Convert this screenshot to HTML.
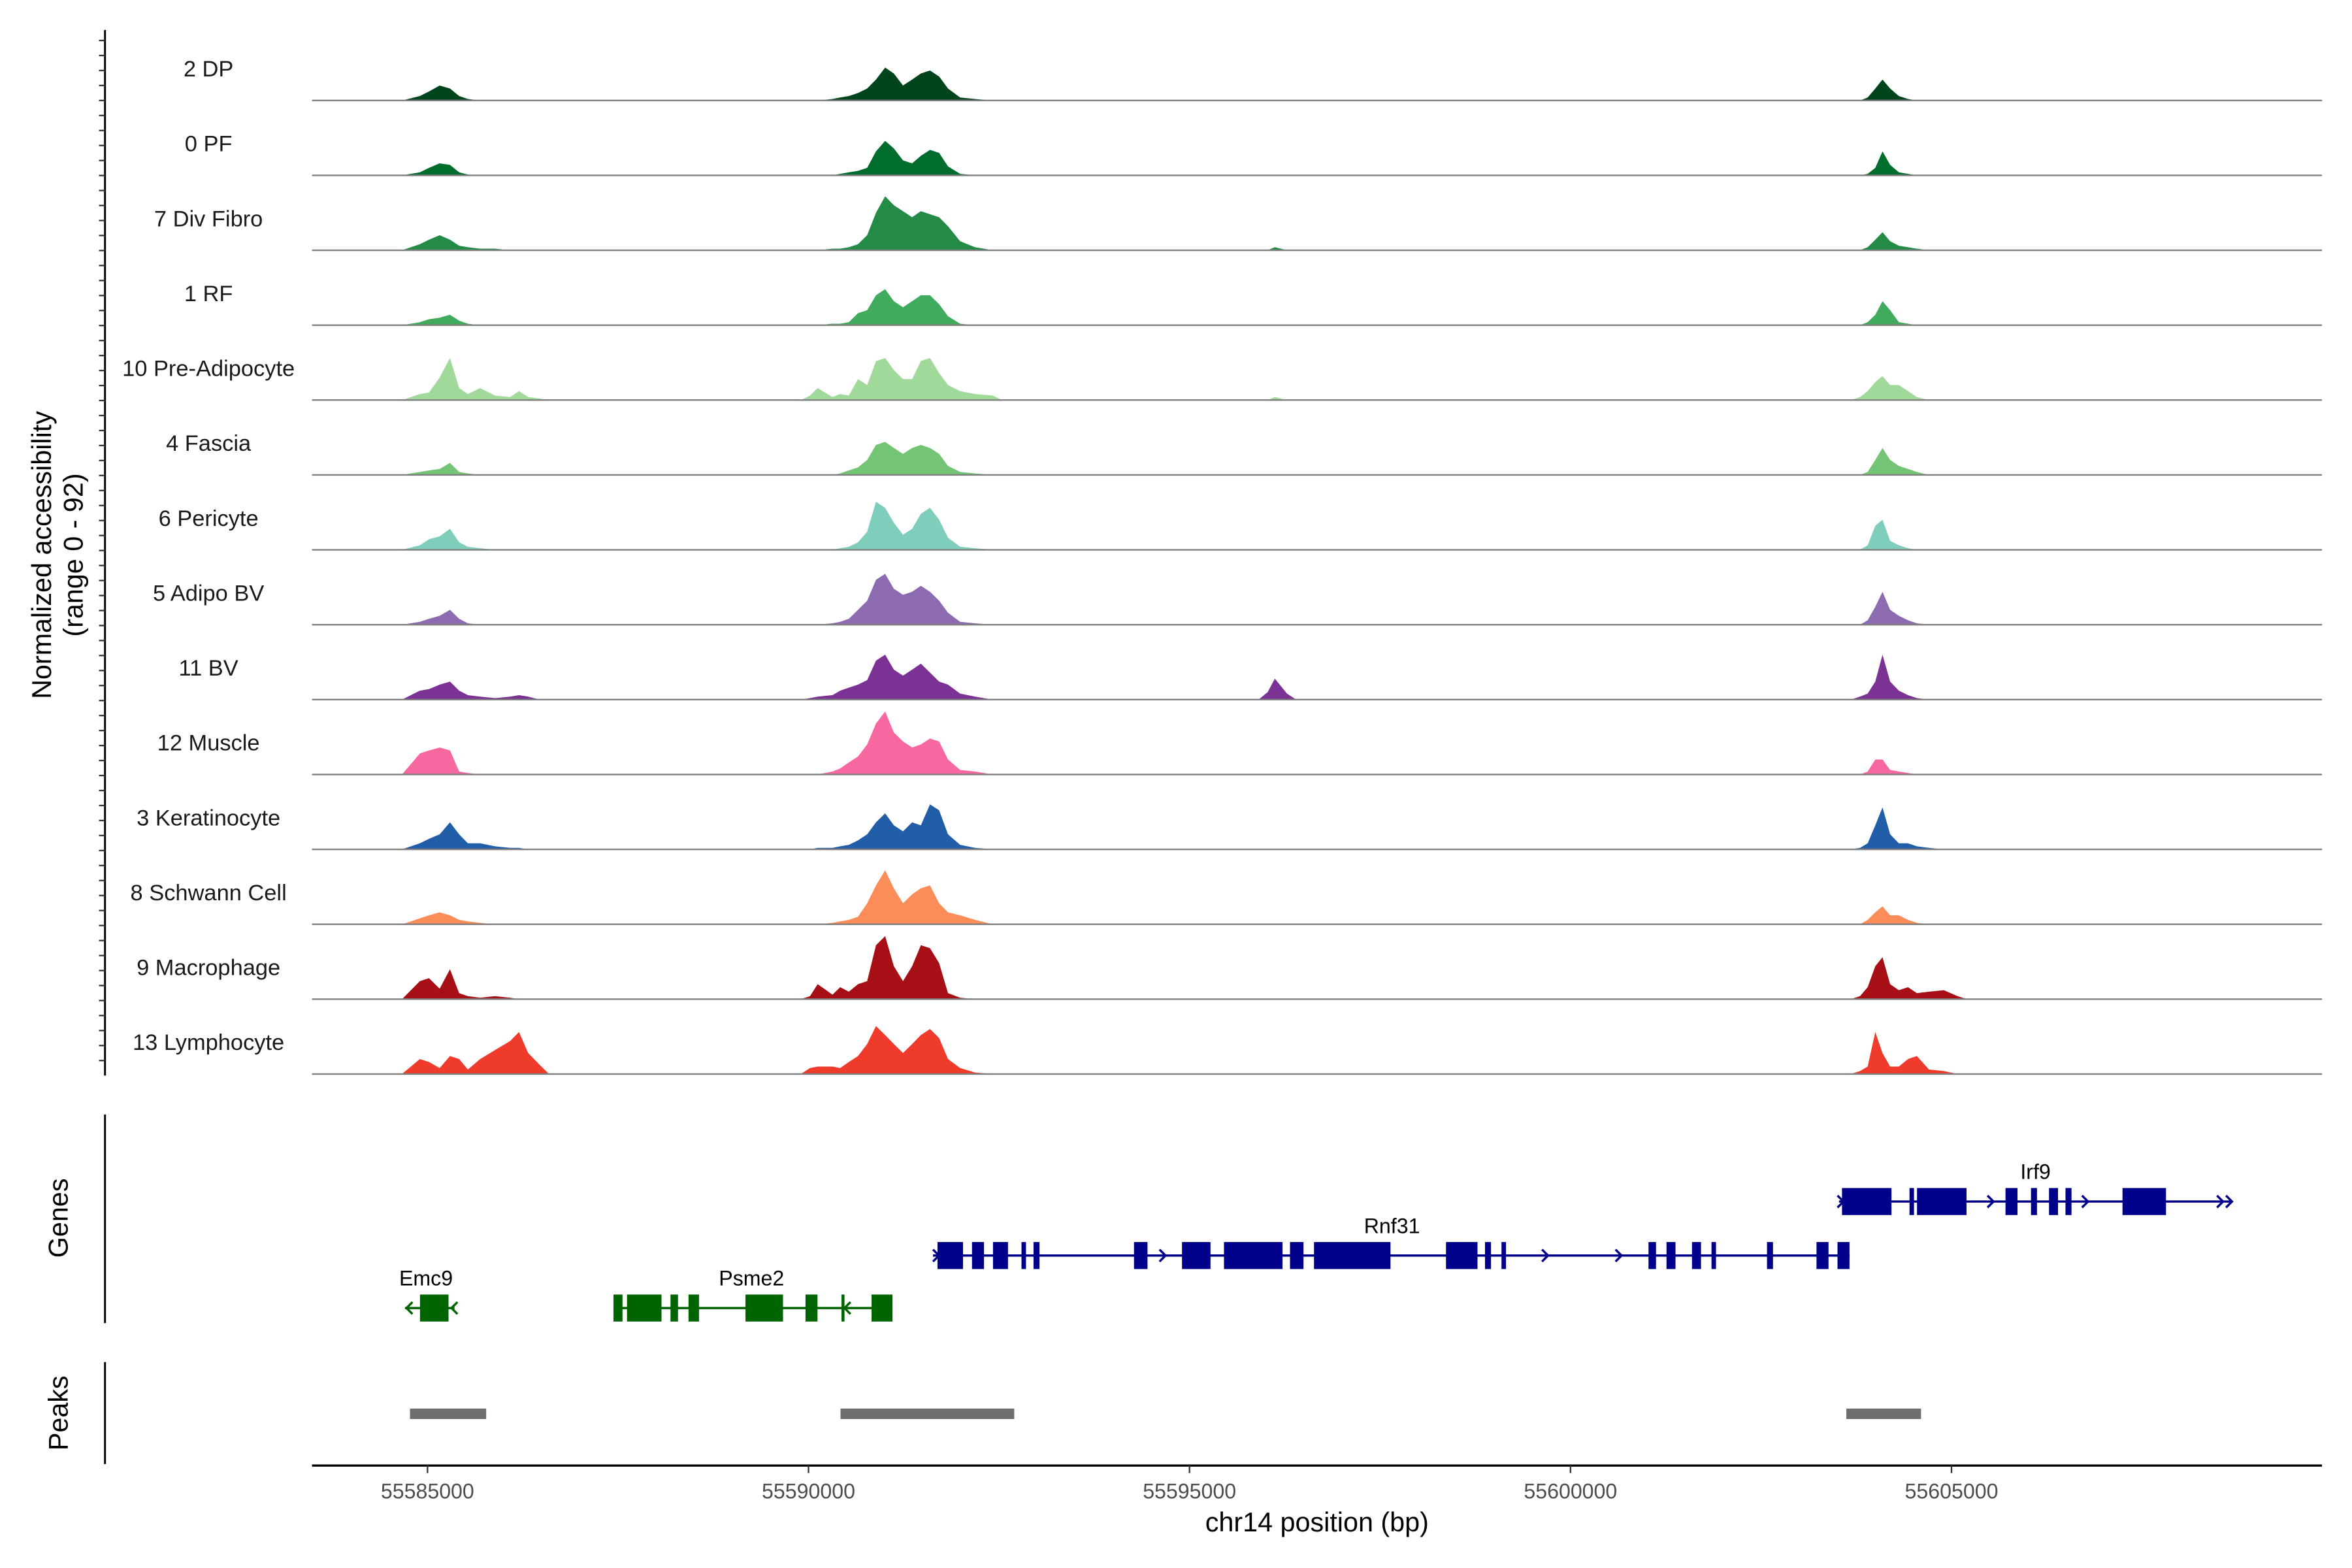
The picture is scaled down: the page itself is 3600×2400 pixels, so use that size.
<!DOCTYPE html>
<html><head><meta charset="utf-8"><title>Coverage plot</title>
<style>html,body{margin:0;padding:0;background:#fff}svg{display:block}text{font-family:"Liberation Sans",Arial,sans-serif}</style>
</head><body>
<svg id="chart" width="3600" height="2400" viewBox="0 0 1568 1045.3" preserveAspectRatio="none" xmlns="http://www.w3.org/2000/svg">
<rect width="1568" height="1046" fill="#fff"/>
<g id="tracks"></g>
<g id="leftaxis"></g>
<text transform="translate(34,370) rotate(-90)" text-anchor="middle" font-size="18" fill="#000">Normalized accessibility</text>
<text transform="translate(55,370) rotate(-90)" text-anchor="middle" font-size="18" fill="#000">(range 0 - 92)</text>
<line x1="70" y1="743" x2="70" y2="882" stroke="#000" stroke-width="1.3"/>
<text transform="translate(45,812) rotate(-90)" text-anchor="middle" font-size="18" fill="#000">Genes</text>
<line x1="70" y1="908" x2="70" y2="976" stroke="#000" stroke-width="1.3"/>
<text transform="translate(45,942) rotate(-90)" text-anchor="middle" font-size="18" fill="#000">Peaks</text>
<g id="genes"></g>
<g id="peaks"></g>
<g id="xaxis"></g>
<text x="878" y="1021" text-anchor="middle" font-size="18" fill="#000">chr14 position (bp)</text>
</svg>
<script>
const NS="http://www.w3.org/2000/svg";
const trackNames=["2 DP","0 PF","7 Div Fibro","1 RF","10 Pre-Adipocyte","4 Fascia","6 Pericyte","5 Adipo BV","11 BV","12 Muscle","3 Keratinocyte","8 Schwann Cell","9 Macrophage","13 Lymphocyte"];
const trackColors=["#00441b","#006d2c","#238b45","#41ab5d","#a1d99b","#74c476","#7fcdbb","#8c6bb1","#7b3294","#f768a1","#225ea8","#fc8d59","#a50f15","#ef3b2c"];
const binPos=[55584665,55584900,55585020,55585160,55585295,55585415,55585530,55585690,55585885,55586085,55586200,55586320,55586475,55586595,
55590020,55590120,55590315,55590415,55590530,55590650,55590770,55590885,55591005,55591120,55591240,55591360,55591475,55591595,55591715,55591830,55591990,55592185,55592420,
55596025,55596120,55596280,
55603800,55603900,55604000,55604095,55604195,55604310,55604430,55604545,55604705,55604900,55605080];
const cov0=[0,6,12,20,16,6,2,0,0,0,0,0,0,0, 0,0,2,4,6,10,16,28,44,36,20,28,36,40,32,16,4,2,0, 0,0,0, 0,4,16,28,16,6,2,0,0,0,0];
const cov1=[0,4,10,16,14,4,1,0,0,0,0,0,0,0, 0,0,0,2,4,6,10,32,46,36,20,16,26,34,30,12,2,0,0, 0,0,0, 0,2,10,32,14,4,2,0,0,0,0];
const cov2=[0,8,14,20,14,6,4,2,2,0,0,0,0,0, 0,0,2,2,4,8,20,50,72,60,52,44,52,48,44,32,12,4,0, 0,4,0, 0,4,14,24,12,6,4,2,0,0,0];
const cov3=[0,4,8,10,14,6,2,0,0,0,0,0,0,0, 0,0,2,2,4,16,20,40,48,32,24,32,40,40,28,12,2,0,0, 0,0,0, 0,4,14,32,20,4,2,0,0,0,0];
const cov4=[0,8,10,30,56,16,8,16,6,4,12,4,2,0, 6,16,4,8,6,28,20,52,56,40,28,28,52,56,36,20,12,8,6, 0,4,0, 4,12,24,32,20,20,12,4,0,0,0];
const cov5=[0,4,6,8,16,4,2,0,0,0,0,0,0,0, 0,0,0,2,6,10,20,40,44,36,28,36,40,36,28,12,4,2,0, 0,0,0, 0,4,20,36,20,12,8,4,0,0,0];
const cov6=[0,6,14,18,28,10,4,2,0,0,0,0,0,0, 0,0,0,2,4,10,24,64,56,36,20,28,48,56,40,16,4,2,0, 0,0,0, 0,6,32,40,12,6,2,0,0,0,0];
const cov7=[0,4,8,12,20,8,2,0,0,0,0,0,0,0, 0,0,2,4,8,20,32,60,68,48,40,44,52,44,32,16,4,2,0, 0,0,0, 0,6,24,44,20,12,6,2,0,0,0];
const cov8=[0,12,14,20,24,12,6,4,2,4,6,4,0,0, 2,4,6,12,16,20,26,52,60,40,32,40,48,36,24,20,8,4,0, 10,28,8, 4,8,24,60,24,12,6,2,0,0,0];
const cov9=[0,28,32,36,32,4,2,0,0,0,0,0,0,0, 0,0,4,8,16,24,40,68,84,56,44,36,40,48,44,20,6,4,0, 0,0,0, 0,4,20,20,6,4,2,0,0,0,0];
const cov10=[0,8,14,20,36,20,8,8,4,2,2,0,0,0, 0,2,2,4,6,12,20,36,48,32,24,36,32,60,52,20,6,2,0, 0,0,0, 2,8,32,56,20,8,8,4,2,0,0];
const cov11=[0,8,12,16,12,6,4,2,0,0,0,0,0,0, 0,0,2,4,6,10,28,52,72,48,28,40,48,52,28,16,12,6,0, 0,0,0, 0,6,16,24,12,12,6,2,0,0,0];
const cov12=[0,24,28,14,40,8,4,2,4,2,0,0,0,0, 4,20,6,16,10,20,24,72,84,44,24,44,72,68,48,8,2,0,0, 0,0,0, 4,16,44,56,20,12,16,8,10,12,4];
const cov13=[0,20,16,8,24,20,6,20,32,44,56,28,12,0, 8,10,10,8,16,24,40,64,52,40,28,40,52,60,48,20,8,2,0, 0,0,0, 4,10,56,28,10,10,20,24,6,4,0];
const coverage=[cov0,cov1,cov2,cov3,cov4,cov5,cov6,cov7,cov8,cov9,cov10,cov11,cov12,cov13];
const xTicks=[55585000,55590000,55595000,55600000,55605000];
const peakStarts=[55584770,55590420,55603620];
const peakEnds=[55585770,55592700,55604600];

function xs(bp){return 285+(bp-55585000)*254/5000;}
function base(i){return 67+i*(716-67)/13;}
function ys(v,i){return base(i)-v*46/92;}
function mk(tag,attrs,parent){const e=document.createElementNS(NS,tag);for(const k in attrs)e.setAttribute(k,attrs[k]);parent.appendChild(e);return e;}

const tg=document.getElementById('tracks');
for(let i=0;i<trackNames.length;i++){
  const g=mk('g',{},tg);
  
  
  const lab=mk('text',{x:139,y:base(i)-16,'text-anchor':'middle','font-size':15,fill:'#1a1a1a'},g);
  lab.textContent=trackNames[i];
  
  
  const d=coverage[i];
  const b=base(i);
  let pts=[xs(binPos[0]).toFixed(1)+','+b];
  for(let j=0;j<binPos.length;j++){
    if(j>0 && binPos[j]-binPos[j-1]>600){
      pts.push(xs(binPos[j-1]+120).toFixed(1)+','+b);
      pts.push(xs(binPos[j]-120).toFixed(1)+','+b);
    }
    pts.push(xs(binPos[j]).toFixed(1)+','+ys(d[j],i).toFixed(1));
  }
  pts.push(xs(binPos[binPos.length-1]+120).toFixed(1)+','+b);
  const area=mk('polygon',{points:pts.join(' '),fill:trackColors[i]},g);
  
  
  const bl=mk('line',{x1:208,x2:1548,y1:b,y2:b,stroke:'#7f7f7f','stroke-width':1},g);
  
  
}
const la=document.getElementById('leftaxis');
mk('line',{x1:70,x2:70,y1:20,y2:717,stroke:'#000','stroke-width':1.3},la);
for(let y=27;y<=716;y+=10){mk('line',{x1:66,x2:70,y1:y,y2:y,stroke:'#333','stroke-width':1},la);}

const gg=document.getElementById('genes');
function gene(name,y,x1,x2,exons,arrows,dir,color,lx,ly){
  const g=mk('g',{},gg);
  
  
  mk('line',{x1:x1,x2:x2,y1:y,y2:y,stroke:color,'stroke-width':1.5},g);
  exons.forEach(e=>mk('rect',{x:e[0],y:y-9,width:e[1]-e[0],height:18,fill:color},g));
  arrows.forEach(a=>{const s=dir>0?-4:4;mk('polyline',{points:(a+s)+','+(y-4)+' '+a+','+y+' '+(a+s)+','+(y+4),fill:'none',stroke:color,'stroke-width':1.5},g);});
  const t=mk('text',{x:lx,y:ly,'text-anchor':'middle','font-size':14,fill:'#000'},g);t.textContent=name;
}
gene('Rnf31',837,622,1233,[[625,642],[648,656],[662,672],[681,684],[689,693],[756,765],[788,807],[816,855],[860,869],[876,927],[964,985],[990,994],[1001,1004],[1099,1104],[1111,1117],[1128,1134],[1141,1144],[1178,1182],[1211,1219],[1225,1233]],[626,670,777,1032,1081],1,'#00008b',928,822);
gene('Irf9',801,1226,1488,[[1228,1261],[1273,1276],[1278,1311],[1337,1345],[1354,1358],[1366,1372],[1377,1381],[1415,1444]],[1229,1329,1392,1482,1488],1,'#00008b',1357,786);
gene('Psme2',872,409,595,[[409,415],[418,441],[447,452],[459,466],[497,522],[537,545],[561,563],[581,595]],[563],-1,'#006400',501,857);
gene('Emc9',872,270,303,[[280,299]],[271,301],-1,'#006400',284,857);

const pk=document.getElementById('peaks');
for(let i=0;i<peakStarts.length;i++){
  const r=mk('rect',{x:xs(peakStarts[i]),y:939,width:xs(peakEnds[i])-xs(peakStarts[i]),height:7,fill:'#6e6e6e'},pk);
  
  
}
const xa=document.getElementById('xaxis');
mk('line',{x1:208,x2:1548,y1:977,y2:977,stroke:'#000','stroke-width':1.5},xa);
xTicks.forEach(t=>{
  mk('line',{x1:xs(t),x2:xs(t),y1:977,y2:982,stroke:'#333','stroke-width':1},xa);
  const tx=mk('text',{x:xs(t),y:999,'text-anchor':'middle','font-size':14,fill:'#4d4d4d'},xa);
  tx.textContent=t;
  
  
});
</script>
</body></html>
